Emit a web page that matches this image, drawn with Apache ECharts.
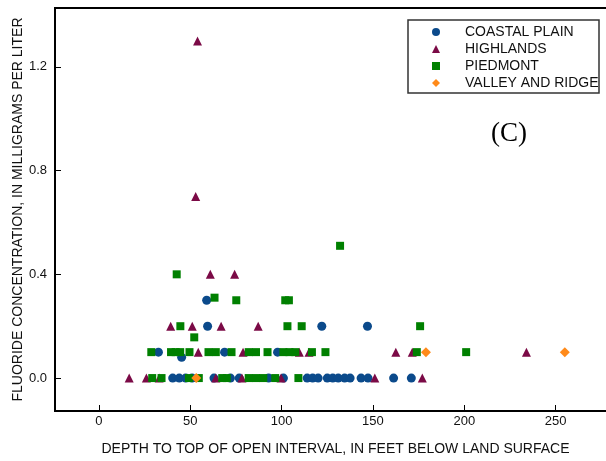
<!DOCTYPE html>
<html>
  <head>
    <title></title>
    <meta charset="UTF-8" />
    <script src="https://cdn.jsdelivr.net/npm/echarts@6/dist/echarts.min.js"></script>
  </head>
  <body style="margin:0">
    <div id="main"></div>
    <script>
      const width = 606;
      const height = 461;
      const main = document.getElementById('main');
      main.style.width = `${width}px`;
      main.style.height = `${height}px`;

      // [depth ft, fluoride mg/L]
      const coastalPlain = [
        [59, 0.3], [59.5, 0.2], [122, 0.2], [147, 0.2], [45.3, 0.08],
        [32.6, 0.1], [68.8, 0.1], [97.8, 0.1],
        [40.4, 0], [44, 0], [47.5, 0], [51, 0], [63, 0], [72, 0], [76.8, 0],
        [92.9, 0], [101, 0], [114, 0], [117, 0], [120, 0], [125, 0], [128, 0],
        [131, 0], [134.5, 0], [137.5, 0], [143.5, 0], [147.3, 0], [161.3, 0], [171, 0]
      ];
      const highlands = [
        [54, 1.3], [53, 0.7], [61, 0.4], [74.3, 0.4],
        [39.3, 0.2], [51.1, 0.2], [66.9, 0.2], [87.2, 0.2],
        [54.4, 0.1], [78.9, 0.1], [109.7, 0.1], [115, 0.1], [162.5, 0.1], [171.5, 0.1], [234, 0.1],
        [16.6, 0], [26, 0], [33, 0], [64, 0], [78.3, 0], [99.7, 0], [151, 0], [177, 0]
      ];
      const piedmont = [
        [132, 0.51], [42.6, 0.4], [63.3, 0.31], [75.2, 0.3], [102, 0.3], [104, 0.3],
        [44.6, 0.2], [103.2, 0.2], [111, 0.2], [175.8, 0.2], [52.2, 0.157],
        [28.7, 0.1], [39.5, 0.1], [42, 0.1], [44.5, 0.1], [49.6, 0.1], [60, 0.1], [64, 0.1],
        [72.6, 0.1], [82, 0.1], [86, 0.1], [92.3, 0.1], [101, 0.1], [104.3, 0.1], [107.5, 0.1],
        [116.6, 0.1], [124, 0.1], [174, 0.1], [201, 0.1],
        [29.2, 0], [34.3, 0], [49.3, 0], [54.7, 0], [67.5, 0], [70, 0], [82, 0], [86, 0],
        [90, 0], [96.5, 0], [109.2, 0]
      ];
      const valleyRidge = [[53.3, 0], [179, 0.1], [255, 0.1]];

      // tick label ranges (first, last, step)
      const xTicks = [0, 250, 50];
      const yTicks = [0, 1.2, 0.4];

      // data extent of the plot frame
      const xRange = [-24, 283];
      const yRange = [-0.127, 1.427];

      const font = 'Liberation Sans, Arial, sans-serif';
      const tickLen = 6;

      // plot frame in pixels
      const frame = { left: 55, right: 616, top: 8, bottom: 411 };
      const px = (v) => frame.left + ((v - xRange[0]) / (xRange[1] - xRange[0])) * (frame.right - frame.left);
      const py = (v) => frame.bottom - ((v - yRange[0]) / (yRange[1] - yRange[0])) * (frame.bottom - frame.top);

      // partner axis of a tick strip: needs a fixed extent, no data lives there
      const hiddenAxis = (gridIndex) => ({
        type: 'value',
        gridIndex,
        min: 0,
        max: 1,
        show: false
      });

      // the tick marks are the split lines of a thin strip grid
      const tickAxis = {
        z: 10,
        axisLine: { show: false, onZero: false },
        axisTick: { show: false },
        splitLine: { show: true, lineStyle: { color: '#000', width: 1, opacity: 1 } }
      };

      const myChart = echarts.init(main);
      const option = {
        animation: false,
        textStyle: { fontFamily: font },
        grid: [
          {
            left: frame.left,
            right: width - frame.right,
            top: frame.top,
            bottom: height - frame.bottom,
            outerBoundsMode: 'none',
            show: true,
            backgroundColor: 'transparent',
            borderColor: '#000',
            borderWidth: 2
          },
          // strip along x for ticks
          {
            left: px(xTicks[0]),
            right: width - px(xTicks[1]),
            top: frame.bottom - tickLen,
            bottom: height - frame.bottom,
            outerBoundsMode: 'none'
          },
          // strip along y for ticks
          {
            left: frame.left,
            width: tickLen,
            top: py(yTicks[1]),
            bottom: height - py(yTicks[0]),
            outerBoundsMode: 'none'
          }
        ],
        legend: {
          orient: 'vertical',
          left: 432,
          top: 23.5,
          padding: 0,
          itemWidth: 8,
          itemHeight: 8,
          itemGap: 0,
          textStyle: {
            fontFamily: font,
            fontSize: 14,
            color: '#111',
            lineHeight: 17,
            padding: [0, 0, 0, 20]
          },
          data: ['COASTAL PLAIN', 'HIGHLANDS', 'PIEDMONT', 'VALLEY AND RIDGE']
        },
        xAxis: [
          {
            type: 'value',
            gridIndex: 0,
            min: xRange[0],
            max: xRange[1],
            name: 'DEPTH TO TOP OF OPEN INTERVAL, IN FEET BELOW LAND SURFACE',
            nameLocation: 'middle',
            nameGap: 31,
            nameTextStyle: { fontSize: 14, color: '#111', fontFamily: font },
            axisLine: { show: false, onZero: false },
            axisTick: { show: false },
            axisLabel: { show: false },
            splitLine: { show: false }
          },
          {
            type: 'value',
            gridIndex: 1,
            min: xTicks[0],
            max: xTicks[1],
            interval: xTicks[2],
            ...tickAxis,
            axisLabel: { margin: 4, fontSize: 13, color: '#111' }
          },
          hiddenAxis(2)
        ],
        yAxis: [
          {
            type: 'value',
            gridIndex: 0,
            min: yRange[0],
            max: yRange[1],
            name: 'FLUORIDE CONCENTRATION, IN MILLIGRAMS PER LITER',
            nameLocation: 'middle',
            nameGap: 30,
            nameTextStyle: { fontSize: 14, color: '#111', fontFamily: font },
            axisLine: { show: false, onZero: false },
            axisTick: { show: false },
            axisLabel: { show: false },
            splitLine: { show: false }
          },
          hiddenAxis(1),
          {
            type: 'value',
            gridIndex: 2,
            min: yTicks[0],
            max: yTicks[1],
            interval: yTicks[2],
            ...tickAxis,
            axisLabel: {
              margin: 8,
              fontSize: 13,
              color: '#111',
              formatter: (v) => v.toFixed(1)
            }
          }
        ],
        graphic: [
          {
            type: 'rect',
            shape: { x: 408, y: 20, width: 191, height: 73 },
            style: { fill: 'none', stroke: '#333', lineWidth: 1.5 },
            z: 100
          },
          {
            type: 'text',
            left: 491,
            top: 120,
            style: {
              text: '(C)',
              fontFamily: 'Liberation Serif, Times New Roman, serif',
              fontSize: 27,
              fill: '#000'
            }
          }
        ],
        series: [
          {
            name: 'COASTAL PLAIN',
            type: 'scatter',
            symbol: 'circle',
            symbolSize: 9,
            itemStyle: { color: '#0b4a8b', opacity: 1 },
            data: coastalPlain
          },
          {
            name: 'HIGHLANDS',
            type: 'scatter',
            symbol: 'triangle',
            symbolSize: 9,
            itemStyle: { color: '#7b0a46', opacity: 1 },
            data: highlands
          },
          {
            name: 'PIEDMONT',
            type: 'scatter',
            symbol: 'rect',
            symbolSize: 8,
            itemStyle: { color: '#008000', opacity: 1 },
            data: piedmont
          },
          {
            name: 'VALLEY AND RIDGE',
            type: 'scatter',
            symbol: 'diamond',
            symbolSize: 10,
            itemStyle: { color: '#ff8a1a', opacity: 1 },
            data: valleyRidge
          }
        ]
      };
      myChart.setOption(option);
    </script>
  </body>
</html>
